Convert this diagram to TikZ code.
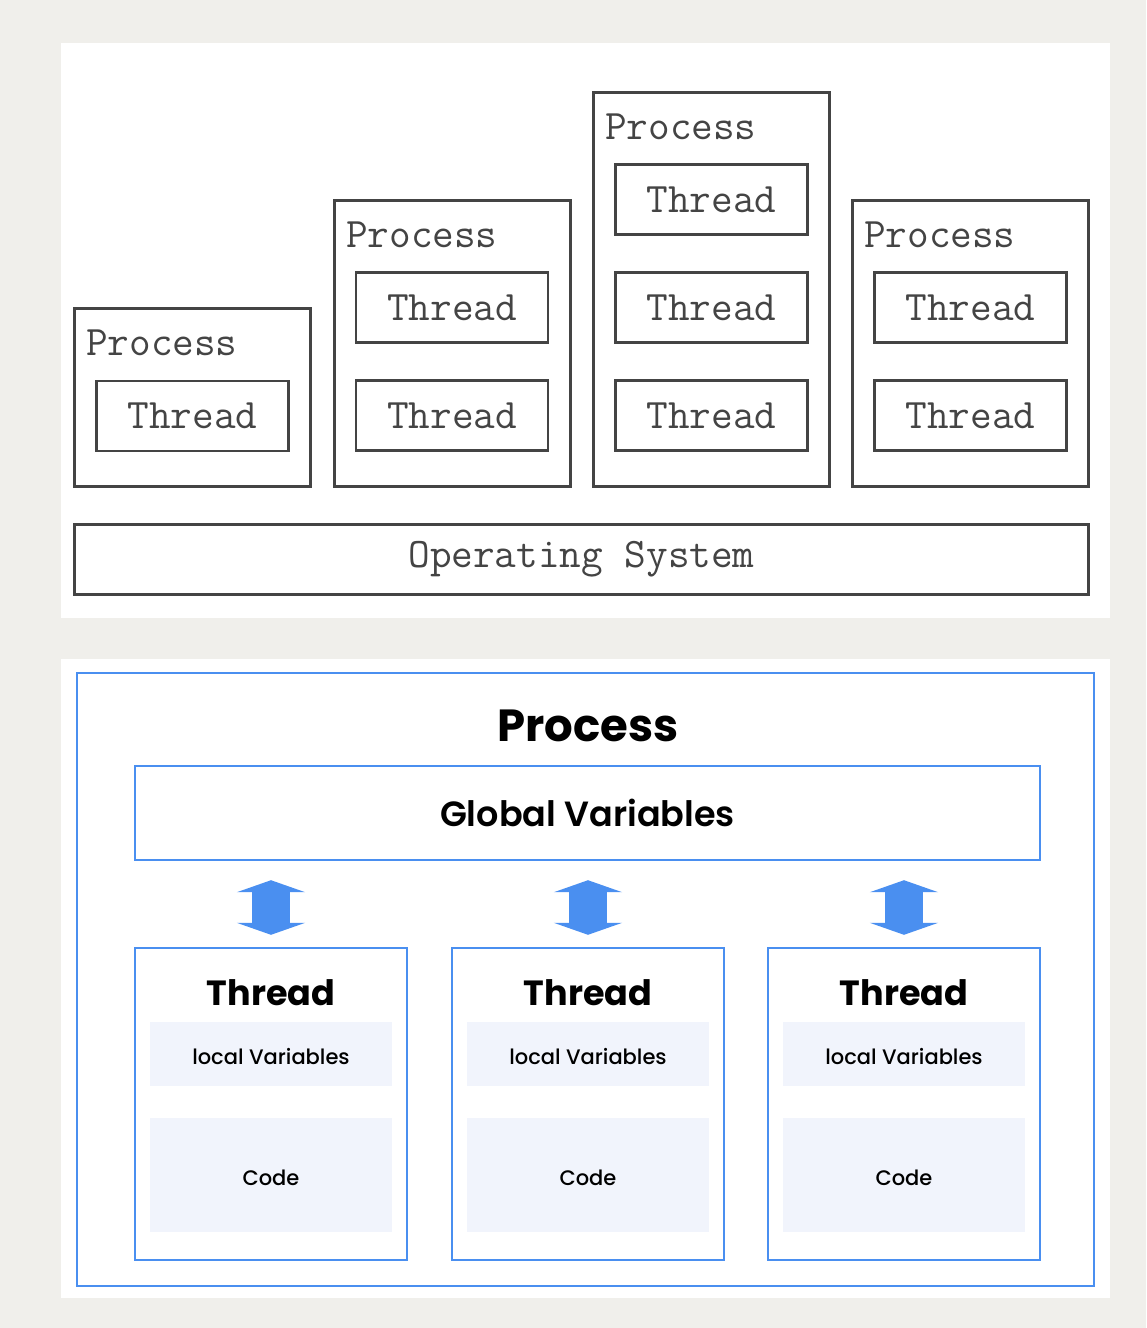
\documentclass[tikz,border=0pt]{standalone}
\usepackage{fontspec}
\newfontfamily\popbold{Poppins}[UprightFont=* Bold]
\newfontfamily\popsemi{Poppins}[UprightFont=* SemiBold]
\newfontfamily\popmed{Poppins}[UprightFont=* Medium]
\usetikzlibrary{positioning}
\usetikzlibrary{arrows.meta}
\definecolor{bgGray}{RGB}{240,239,235}
\definecolor{lineGray}{RGB}{68,68,68}
\definecolor{osBlue}{RGB}{74,143,240}
\definecolor{paleBlue}{RGB}{241,244,252}
\tikzset{procbox/.style={draw=lineGray, line width=2.6pt, minimum width=236pt, anchor=north west, inner sep=0pt, outer sep=0pt}}
\tikzset{plabel/.style={anchor=west, inner sep=0pt, text=lineGray, font=\ttfamily\fontsize{42}{46}\selectfont}}
\tikzset{thr/.style={draw=lineGray, line width=2.6pt, minimum width=192pt, minimum height=70pt, inner sep=0pt, outer sep=0pt, text=lineGray, font=\ttfamily\fontsize{42}{46}\selectfont}}
\tikzset{bluebox/.style={draw=osBlue, line width=2.4pt, inner sep=0pt}}
\tikzset{pale/.style={fill=paleBlue, minimum width=242pt, inner sep=0pt, text depth=0pt, text height=20pt, font=\popmed\fontsize{21}{24}\selectfont}}
\tikzset{dbl/.style={osBlue, line width=38pt, {Triangle[width=68pt,length=12pt]}-{Triangle[width=68pt,length=12pt]}}}

\begin{document}
\begin{tikzpicture}[x=1pt, y=-1pt]
\useasboundingbox (0,0) rectangle (1146,1328);
\fill[bgGray] (0,0) rectangle (1146,1328);

% processes on top of the OS
\fill[white] (61,43) rectangle (1110,618);
\node[procbox, minimum height=178pt] (P1) at (74.5,308.5) {};
\node[procbox, minimum height=286pt] (P2) at (334.5,200.5) {};
\node[procbox, minimum height=394pt] (P3) at (593.5,92.5) {};
\node[procbox, minimum height=286pt] (P4) at (852.5,200.5) {};

\node[plabel] (L1) at (86,343) {Process};
\node[plabel] (L2) at (346,235) {Process};
\node[plabel] (L3) at (605,127) {Process};
\node[plabel] (L4) at (864,235) {Process};

\node[thr] (T11) at (192.5,416) {Thread};
\node[thr] (T21) at (452,307.5) {Thread};
\node[thr] (T22) [below = 38pt of T21] {Thread};
\node[thr] (T31) at (711.5,199.5) {Thread};
\node[thr] (T32) [below = 38pt of T31] {Thread};
\node[thr] (T33) [below = 38pt of T32] {Thread};
\node[thr] (T41) at (970.5,307.5) {Thread};
\node[thr] (T42) [below = 38pt of T41] {Thread};

\node[thr, minimum width=1014pt] (OS) at (581.5,559.5) {Operating System};

% one process, its threads
\fill[white] (61,659) rectangle (1110,1298);
\node[bluebox, minimum width=1017pt, minimum height=613pt] (proc) at (585.5,979.5) {};
\node[font=\popbold\fontsize{45}{50}\selectfont] (ptitle) at (588,726) {Process};
\node[bluebox, minimum width=905pt, minimum height=94pt, font=\popsemi\fontsize{35}{40}\selectfont] (gv) at (587.5,813) {Global Variables};

\foreach \i/\x in {1/271, 2/588, 3/904} {
  \node[bluebox, minimum width=272pt, minimum height=312pt] (th\i) at (\x,1104) {};
  \node[font=\popbold\fontsize{35}{40}\selectfont] (tt\i) at (\x,993) {Thread};
  \node[pale, minimum height=64pt] (lv\i) at (\x,1054) {local Variables};
  \node[pale, minimum height=114pt] (cd\i) at (\x,1175) {Code};
  \draw[dbl] ([yshift=-19pt]th\i.north |- gv.south) -- ([yshift=12pt]th\i.north);
}
\end{tikzpicture}
\end{document}
